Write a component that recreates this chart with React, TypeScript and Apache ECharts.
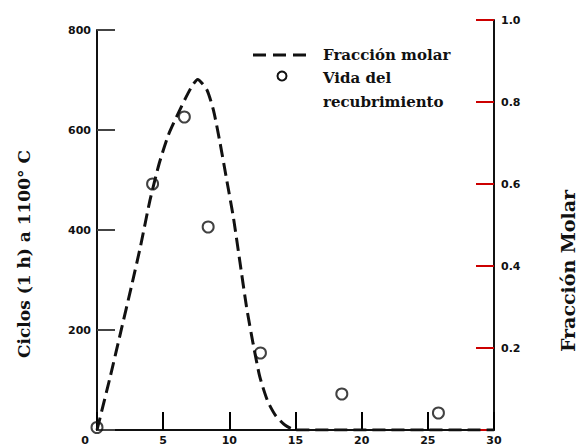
import React, { useEffect, useRef } from "react";
import * as echarts from "echarts";

// Fracción molar (right axis) — dashed curve
const fraccionX = [0, 1, 1.8, 2.6, 3.3, 4.0, 4.7, 5.4, 6.1, 6.7, 7.2, 7.6, 8.3, 8.8, 9.3, 9.8, 10.3, 10.8, 11.3, 11.8, 12.3, 12.9, 13.5, 14.2, 15.0, 16, 30];
const fraccionY = [0, 0.13, 0.24, 0.35, 0.45, 0.56, 0.65, 0.72, 0.77, 0.81, 0.84, 0.855, 0.83, 0.78, 0.7, 0.61, 0.52, 0.41, 0.3, 0.21, 0.13, 0.07, 0.035, 0.012, 0, 0, 0];

// Vida del recubrimiento (left axis) — open circles
const vidaX = [0, 4.2, 6.6, 8.4, 12.35, 18.5, 25.8];
const vidaY = [5, 492, 626, 406, 154, 72, 34];

// Axis ranges / ticks
const xRange = [0, 30];
const xStep = 5;
const leftRange = [0, 800];
const leftStep = 200;
const rightRange = [0, 1];
const rightStep = 0.2;

const leftTitle = "Ciclos (1 h) a 1100° C";
const rightTitle = "Fracción Molar";
const legendLine = "Fracción molar";
const legendCircle = ["Vida del", "recubrimiento"];

const INK = "#111";
const TICK_LEN = 18;
const TICK_FONT = "DejaVu Sans";
const TITLE_FONT = "DejaVu Serif";

function buildOption() {
  const labelStyle = () => ({ color: INK, fontFamily: TICK_FONT, fontSize: 11, fontWeight: "bold" as const });
  const axisLine = () => ({ show: true, onZero: false, lineStyle: { color: INK, width: 2 } });
  const axisTick = (color: string) => ({ show: true, inside: true, length: TICK_LEN, lineStyle: { color, width: 2 } });
  const titleFont = (size: number) => `bold ${size}px "${TITLE_FONT}"`;

  return {
    animation: false,
    backgroundColor: "#fff",
    grid: [
      { left: 97, right: 85, top: 30, bottom: 18 },
      { left: 97, right: 85, top: 20, bottom: 18 },
    ],
    xAxis: [
      {
        gridIndex: 0,
        type: "value",
        min: xRange[0],
        max: xRange[1],
        interval: xStep,
        axisLine: axisLine(),
        axisTick: axisTick("#000"),
        splitLine: { show: false },
        axisLabel: {
          ...labelStyle(),
          margin: 5,
          formatter: (v: number) => (v === 0 ? "{z|0}" : String(v)),
          rich: { z: { ...labelStyle(), padding: [0, 24, 0, 0] } },
        },
      },
      { gridIndex: 1, type: "value", min: xRange[0], max: xRange[1], show: false },
    ],
    yAxis: [
      {
        gridIndex: 0,
        type: "value",
        position: "left",
        min: leftRange[0],
        max: leftRange[1],
        interval: leftStep,
        axisLine: axisLine(),
        axisTick: axisTick("#444"),
        splitLine: { show: false },
        axisLabel: { ...labelStyle(), margin: 6, formatter: (v: number) => (v === 0 ? "" : String(v)) },
      },
      {
        gridIndex: 1,
        type: "value",
        position: "right",
        min: rightRange[0],
        max: rightRange[1],
        interval: rightStep,
        axisLine: axisLine(),
        axisTick: axisTick("#c00"),
        splitLine: { show: false },
        axisLabel: { ...labelStyle(), margin: 7, formatter: (v: number) => (v === 0 ? "" : v.toFixed(1)) },
      },
    ],
    series: [
      {
        type: "line",
        xAxisIndex: 1,
        yAxisIndex: 1,
        data: fraccionX.map((x, i) => [x, fraccionY[i]]),
        showSymbol: false,
        smooth: 0.2,
        lineStyle: { color: INK, width: 3, type: [13, 6] },
        z: 3,
      },
      {
        type: "scatter",
        xAxisIndex: 0,
        yAxisIndex: 0,
        data: vidaX.map((x, i) => [x, vidaY[i]]),
        symbol: "circle",
        symbolSize: 11,
        itemStyle: { color: "rgba(255,255,255,0)", borderColor: INK, borderWidth: 2 },
        z: 4,
      },
    ],
    graphic: [
      { type: "line", shape: { x1: 253, y1: 55, x2: 307, y2: 55 }, style: { stroke: INK, lineWidth: 3, lineDash: [13, 7] } },
      { type: "circle", shape: { cx: 282, cy: 76, r: 4.5 }, style: { fill: "rgba(255,255,255,0)", stroke: INK, lineWidth: 2 } },
      { type: "text", x: 323, y: 55, style: { text: legendLine, fill: INK, font: titleFont(15), verticalAlign: "middle", align: "left" } },
      { type: "text", x: 323, y: 78, style: { text: legendCircle[0], fill: INK, font: titleFont(15), verticalAlign: "middle", align: "left" } },
      { type: "text", x: 323, y: 102, style: { text: legendCircle[1], fill: INK, font: titleFont(15), verticalAlign: "middle", align: "left" } },
      { type: "text", x: 24, y: 254, rotation: Math.PI / 2, style: { text: leftTitle, fill: INK, font: titleFont(17), verticalAlign: "middle", align: "center" } },
      { type: "text", x: 568, y: 271, rotation: Math.PI / 2, style: { text: rightTitle, fill: INK, font: titleFont(19), verticalAlign: "middle", align: "center" } },
    ],
  };
}

export default function App() {
  const ref = useRef<HTMLDivElement>(null);

  useEffect(() => {
    if (!ref.current) return;
    const chart = echarts.init(ref.current, null, { renderer: "svg" });
    chart.setOption(buildOption() as any);
    return () => chart.dispose();
  }, []);

  return <div ref={ref} style={{ position: "absolute", left: 0, top: 0, width: 579, height: 448 }} />;
}
